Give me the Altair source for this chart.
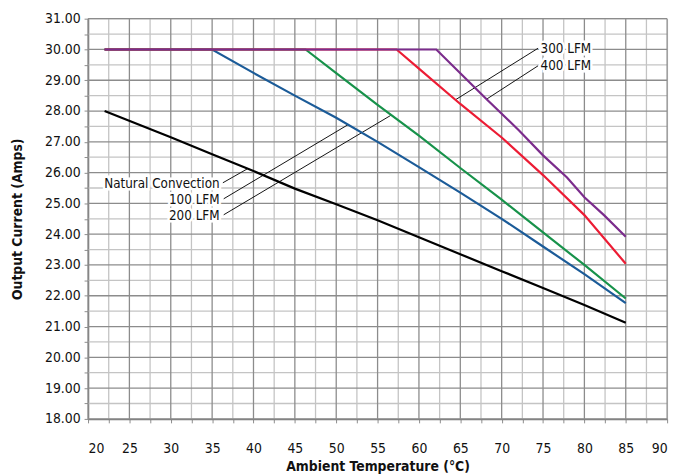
import altair as alt
import pandas as pd

# ---- data ----
nc_x = [22, 30, 35, 40, 45, 50, 55, 60, 65, 70, 75, 80, 85]
nc_y = [28.0, 27.15, 26.6, 26.05, 25.48, 24.97, 24.45, 23.9, 23.35, 22.8, 22.25, 21.7, 21.12]

lfm100_x = [22, 35, 40, 45, 50, 55, 60, 65, 70, 75, 80, 85]
lfm100_y = [30, 30, 29.24, 28.5, 27.78, 27.0, 26.18, 25.35, 24.5, 23.6, 22.7, 21.76]

lfm200_x = [22, 46.3, 50, 55, 60, 65, 70, 75, 80, 85]
lfm200_y = [30, 30, 29.23, 28.2, 27.2, 26.15, 25.12, 24.06, 23.0, 21.91]

lfm300_x = [22, 57.3, 60, 65, 70, 75, 80, 85]
lfm300_y = [30, 30, 29.38, 28.23, 27.14, 25.92, 24.62, 23.04]

lfm400_x = [22, 62.1, 65, 68.15, 72.1, 75, 77.9, 80, 82.4, 85]
lfm400_y = [30, 30, 29.23, 28.39, 27.37, 26.56, 25.84, 25.2, 24.61, 23.92]

series_names = ["Natural Convection", "100 LFM", "200 LFM", "300 LFM", "400 LFM"]
series_colors = ["#000000", "#1b5b98", "#17924a", "#ec1c34", "#7b2c8c"]

label_text = ["Natural Convection", "100 LFM", "200 LFM", "300 LFM", "400 LFM"]
label_x = [35.9, 35.9, 35.9, 74.7, 74.7]
label_y = [25.64, 25.12, 24.58, 30.02, 29.47]
label_align = ["right", "right", "right", "left", "left"]

leader_x1 = [36.3, 36.4, 36.4, 74.4, 74.4]
leader_y1 = [25.67, 25.15, 24.63, 30.04, 29.47]
leader_x2 = [39.24, 51.45, 56.6, 64.44, 68.2]
leader_y2 = [26.12, 27.56, 27.86, 28.37, 28.39]

y_ticks = [18 + 0.5 * i for i in range(27)]
x_ticks = [20 + 2.5 * i for i in range(29)]
x_major = [v for v in x_ticks if v % 5 == 0]
x_minor = [v for v in x_ticks if v % 5 != 0]
y_major = [v for v in y_ticks if v % 1 == 0]
y_minor = [v for v in y_ticks if v % 1 != 0]

FONT = "DejaVu Sans Condensed, Liberation Sans, sans-serif"
MAJOR = "#8c8c8c"
MINOR = "#c4c4c4"

xscale = alt.Scale(domain=[20, 90], nice=False, zero=False)
yscale = alt.Scale(domain=[18, 31], nice=False, zero=False)

x_axis = alt.Axis(
    values=x_ticks,
    labelExpr="datum.value % 5 == 0 ? format(datum.value, 'd') : ''",
    labelOverlap=False,
    title="Ambient Temperature (°C)",
    grid=False,
    tickColor=MAJOR,
    tickSize=4,
    labelPadding=19,
    labelFontSize=14,
    labelFont=FONT,
    labelColor="#111111",
    titleFont=FONT,
    titleFontSize=14,
    titleFontWeight="bold",
    titleColor="#111111",
    titlePadding=4,
    domainColor="#7a7a7a",
    domainWidth=1.5,
)
y_axis = alt.Axis(
    values=y_ticks,
    labelExpr="datum.value % 1 == 0 ? format(datum.value, '.2f') : ''",
    labelOverlap=False,
    title="Output Current (Amps)",
    grid=False,
    tickColor=MAJOR,
    tickSize=4,
    labelPadding=4,
    labelFontSize=14,
    labelFont=FONT,
    labelColor="#111111",
    titleFont=FONT,
    titleFontSize=14,
    titleFontWeight="bold",
    titleColor="#111111",
    titlePadding=20,
    domainColor="#7a7a7a",
    domainWidth=1.5,
)

layers = []

def vrules(vals, color, axis):
    return alt.Chart(pd.DataFrame({"x": vals})).mark_rule(color=color, strokeWidth=1.3).encode(
        x=alt.X("x:Q", scale=xscale, axis=axis)
    )

def hrules(vals, color, axis):
    return alt.Chart(pd.DataFrame({"y": vals})).mark_rule(color=color, strokeWidth=1.3).encode(
        y=alt.Y("y:Q", scale=yscale, axis=axis)
    )

layers += [
    vrules(x_minor, MINOR, x_axis),
    hrules(y_minor, MINOR, y_axis),
    vrules(x_major, MAJOR, x_axis),
    hrules(y_major, MAJOR, y_axis),
]

# leader lines
lead_df = pd.DataFrame({"x": leader_x1, "y": leader_y1, "x2": leader_x2, "y2": leader_y2})
leaders = alt.Chart(lead_df).mark_rule(color="#111111", strokeWidth=1).encode(
    x=alt.X("x:Q", scale=xscale, axis=x_axis), y=alt.Y("y:Q", scale=yscale, axis=y_axis),
    x2="x2:Q", y2="y2:Q",
)
layers.append(leaders)

# series lines
all_x = [nc_x, lfm100_x, lfm200_x, lfm300_x, lfm400_x]
all_y = [nc_y, lfm100_y, lfm200_y, lfm300_y, lfm400_y]
for name, xs, ys, col in zip(series_names, all_x, all_y, series_colors):
    df = pd.DataFrame({"x": xs, "y": ys, "series": name})
    layers.append(
        alt.Chart(df).mark_line(color=col, strokeWidth=2.2).encode(
            x=alt.X("x:Q", scale=xscale, axis=x_axis), y=alt.Y("y:Q", scale=yscale, axis=y_axis)
        )
    )

# labels with white halo
lab_df = pd.DataFrame({"x": label_x, "y": label_y, "t": label_text, "a": label_align})
for align in ["right", "left"]:
    sub = lab_df[lab_df["a"] == align]
    halo = alt.Chart(sub).mark_text(
        align=align, baseline="middle", font=FONT, fontSize=13.5,
        stroke="white", strokeWidth=5, fill="white",
    ).encode(x=alt.X("x:Q", scale=xscale, axis=x_axis), y=alt.Y("y:Q", scale=yscale, axis=y_axis), text="t:N")
    txt = alt.Chart(sub).mark_text(
        align=align, baseline="middle", font=FONT, fontSize=13.5, color="#111111",
    ).encode(x=alt.X("x:Q", scale=xscale, axis=x_axis), y=alt.Y("y:Q", scale=yscale, axis=y_axis), text="t:N")
    layers.append(halo)
    layers.append(txt)

chart = alt.layer(*layers).properties(
    width=586,
    height=405,
    autosize=alt.AutoSizeParams(type="none"),
    padding={"left": 81, "top": 8, "right": 10, "bottom": 58},
).configure_view(stroke=MAJOR, strokeWidth=1.3).configure_axis(
    labelOverlap=False
).configure(background="white")

chart.save("out.html", embed_options={"renderer": "svg", "actions": False})
